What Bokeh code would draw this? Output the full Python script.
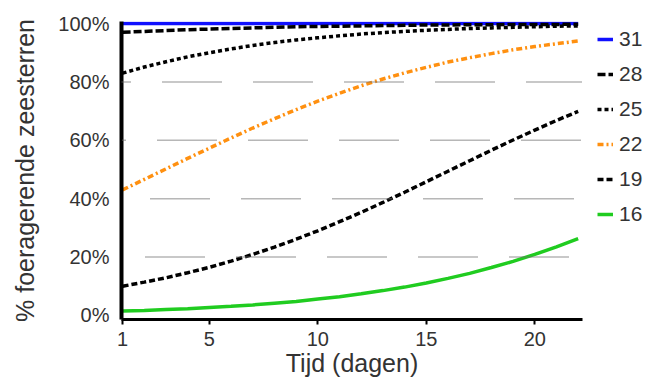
from bokeh.plotting import figure
from bokeh.models import Range1d, FixedTicker, Span, Legend, LegendItem
from bokeh.embed import file_html
from bokeh.resources import INLINE

# ---- data ----
days = [1, 2, 3, 4, 5, 6, 7, 8, 9, 10, 11, 12, 13, 14, 15, 16, 17, 18, 19, 20, 21, 22]
t31 = [100.0, 100.0, 100.0, 100.0, 100.0, 100.0, 100.0, 100.0, 100.0, 100.0, 100.0,
       100.0, 100.0, 100.0, 100.0, 100.0, 100.0, 100.0, 100.0, 100.0, 100.0, 100.0]
t28 = [97.0, 97.3, 97.6, 97.9, 98.1, 98.3, 98.5, 98.7, 98.9, 99.0, 99.1,
       99.2, 99.3, 99.4, 99.5, 99.5, 99.6, 99.6, 99.7, 99.7, 99.7, 99.8]
t25 = [83.0, 85.1, 86.9, 88.6, 90.0, 91.3, 92.5, 93.5, 94.4, 95.1, 95.8,
       96.4, 96.9, 97.3, 97.7, 98.0, 98.3, 98.5, 98.7, 98.9, 99.1, 99.2]
t22 = [43.0, 46.6, 50.2, 53.8, 57.3, 60.8, 64.2, 67.4, 70.5, 73.4, 76.1,
       78.7, 81.0, 83.1, 85.0, 86.8, 88.3, 89.7, 91.0, 92.1, 93.1, 94.0]
t19 = [10.0, 11.4, 12.9, 14.6, 16.5, 18.6, 20.9, 23.4, 26.1, 29.0, 32.1,
       35.3, 38.7, 42.2, 45.8, 49.4, 53.0, 56.6, 60.1, 63.5, 66.8, 69.9]
t16 = [1.5, 1.7, 2.0, 2.3, 2.7, 3.1, 3.6, 4.2, 4.8, 5.6, 6.4,
       7.4, 8.5, 9.7, 11.1, 12.7, 14.4, 16.4, 18.5, 20.9, 23.5, 26.3]

series_labels = ["31", "28", "25", "22", "19", "16"]
x_ticks = [1, 5, 10, 15, 20]
y_ticks = [0, 20, 40, 60, 80, 100]
y_tick_labels = ["0%", "20%", "40%", "60%", "80%", "100%"]
grid_levels = [20, 40, 60, 80]

FONT = "Liberation Sans"
TXT = "#333333"

p = figure(output_backend="svg", toolbar_location=None,
           frame_width=461, frame_height=298,
           min_border_left=121, min_border_top=21, min_border_right=58, min_border_bottom=54,
           x_range=Range1d(0.95, 22.2), y_range=Range1d(-1.4, 100.7))
p.outline_line_color = None
p.xgrid.visible = False
p.ygrid.visible = False

# staggered dotted grid segments
dots = [1, 1] * 29 + [1, 32]
dash_str = " ".join(str(v) for v in dots)
grid_offsets = {20: 67, 40: 62, 60: 55, 80: 50}
for lv in grid_levels:
    p.add_layout(Span(location=lv, dimension="width", line_color="#6e6e6e",
                      line_width=1.5, line_dash=dash_str, line_dash_offset=grid_offsets[lv]))

styles = [
    (t31, "#1010ff", "solid"),
    (t28, "black", "8 3"),
    (t25, "black", "4 3"),
    (t22, "#ff9010", "6 3 2 3"),
    (t19, "black", "6 3"),
    (t16, "#20cc20", "solid"),
]
items = []
for (vals, col, dash), lab in zip(styles, series_labels):
    r = p.line(days, vals, line_color=col, line_width=3.5, line_dash=dash)
    items.append(LegendItem(label=lab, renderers=[r]))

legend = Legend(items=items, location=(15, 93), margin=0, padding=0,
                glyph_width=16, glyph_height=20, label_height=20, spacing=11,
                label_standoff=6, border_line_color=None, background_fill_alpha=0,
                label_text_font=FONT, label_text_font_size="21px", label_text_color=TXT)
p.add_layout(legend, "right")

# axes
p.xaxis.ticker = FixedTicker(ticks=x_ticks)
p.yaxis.ticker = FixedTicker(ticks=y_ticks)
p.yaxis.major_label_overrides = {t: s for t, s in zip(y_ticks, y_tick_labels)}
p.xaxis.axis_label = "Tijd (dagen)"
p.yaxis.axis_label = "% foeragerende zeesterren"
for ax in (p.xaxis, p.yaxis):
    ax.axis_label_text_font = FONT
    ax.axis_label_text_font_size = "25px"
    ax.axis_label_text_font_style = "normal"
    ax.axis_label_text_color = TXT
    ax.major_label_text_font = FONT
    ax.major_label_text_font_size = "20px"
    ax.major_label_text_color = TXT
    ax.minor_tick_line_color = None
    ax.axis_line_color = "black"
p.yaxis.axis_line_width = 4
p.xaxis.axis_line_width = 3
p.yaxis.major_tick_line_color = None
p.yaxis.major_label_standoff = 6
p.yaxis.axis_label_standoff = 16
p.xaxis.major_tick_line_width = 2
p.xaxis.major_tick_out = 5
p.xaxis.major_tick_in = 0
p.xaxis.major_label_standoff = 7
p.xaxis.axis_label_standoff = 0

open("out.html", "w").write(file_html(p, INLINE))
